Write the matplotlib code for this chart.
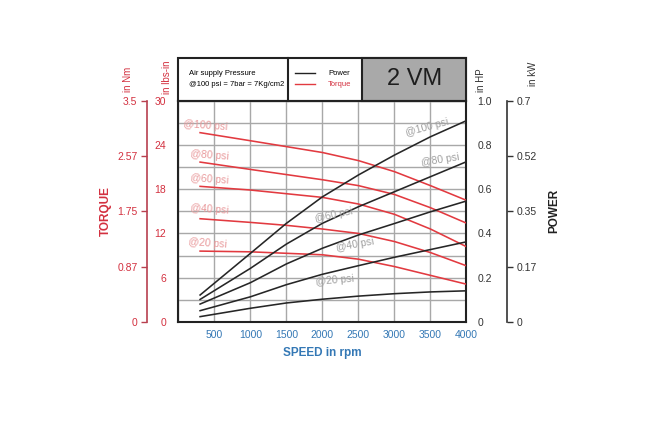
import matplotlib
matplotlib.use("Agg")
import matplotlib.pyplot as plt
from matplotlib.patches import Rectangle

plt.rcParams['font.family'] = ['Liberation Sans', 'DejaVu Sans']

# --- DATA ---
speed = [300, 1000, 1500, 2000, 2500, 3000, 3500, 4000]

torque_100 = [25.7, 24.6, 23.8, 23.0, 21.9, 20.4, 18.5, 16.5]
torque_80 = [21.7, 20.7, 20.0, 19.3, 18.5, 17.3, 15.5, 13.4]
torque_60 = [18.4, 17.9, 17.4, 16.9, 16.0, 14.6, 12.6, 10.2]
torque_40 = [14.0, 13.5, 13.1, 12.6, 12.0, 10.9, 9.4, 7.6]
torque_20 = [9.6, 9.5, 9.3, 9.1, 8.5, 7.5, 6.3, 5.1]

power_100 = [0.121, 0.31, 0.446, 0.566, 0.665, 0.755, 0.838, 0.911]
power_80 = [0.101, 0.242, 0.352, 0.446, 0.521, 0.589, 0.657, 0.725]
power_60 = [0.080, 0.177, 0.262, 0.333, 0.393, 0.445, 0.498, 0.547]
power_40 = [0.050, 0.113, 0.168, 0.215, 0.254, 0.292, 0.327, 0.362]
power_20 = [0.023, 0.061, 0.085, 0.102, 0.116, 0.127, 0.135, 0.140]

psi_labels = ['@100 psi', '@80 psi', '@60 psi', '@40 psi', '@20 psi']

x_ticks = [500, 1000, 1500, 2000, 2500, 3000, 3500, 4000]
lbin_ticks = [0, 6, 12, 18, 24, 30]
hp_ticks = [0, 0.2, 0.4, 0.6, 0.8, 1.0]
hp_ticklabels = ['0', '0.2', '0.4', '0.6', '0.8', '1.0']
nm_ticks = [0, 0.875, 1.75, 2.625, 3.5]
nm_ticklabels = ['0', '0.87', '1.75', '2.57', '3.5']
kw_ticks = [0, 0.175, 0.35, 0.525, 0.7]
kw_ticklabels = ['0', '0.17', '0.35', '0.52', '0.7']

RED = '#d3303f'
LINE_RED = '#e23a40'
BLUE = '#3478b5'
PINK = '#e99a9c'
GREY_TXT = '#a0a0a0'

fig = plt.figure(figsize=(6.5, 4.33), dpi=100)
ax = fig.add_axes([0.2746, 0.257, 0.443, 0.5097])

# --- torque (lbs-in) on main axis ---
torques = [torque_100, torque_80, torque_60, torque_40, torque_20]
for t in torques:
    ax.plot(speed, t, color=LINE_RED, lw=1.15, zorder=3)

ax.set_xlim(0, 4000)
ax.set_ylim(0, 30)
ax.set_xticks(range(0, 4001, 500))
ax.set_yticks([i * 3 for i in range(11)])
ax.grid(True, color='#a8a8a8', lw=1.0)
ax.set_xticklabels([''] + [str(v) for v in x_ticks])
ax.set_yticklabels([str(v) if v in lbin_ticks else '' for v in [i * 3 for i in range(11)]])
ax.tick_params(axis='x', length=0, pad=6, labelsize=7.5, labelcolor=BLUE)
ax.tick_params(axis='y', length=0, pad=9, labelsize=7.5, labelcolor=RED)
for s in ax.spines.values():
    s.set_linewidth(1.5)
    s.set_color('#222222')
ax.set_xlabel('SPEED in rpm', color=BLUE, fontsize=8.5, fontweight='bold', labelpad=5)

# red labels on torque curves
red_pos = [(60, 26.6), (160, 22.6), (160, 19.4), (160, 15.3), (130, 10.7)]
for lab, (px, py) in zip(psi_labels, red_pos):
    ax.text(px, py, lab, color=PINK, fontsize=7.5, rotation=-4, ha='left', va='center', zorder=4)

# --- power (HP) on right axis ---
ax_hp = ax.twinx()
powers = [power_100, power_80, power_60, power_40, power_20]
for p in powers:
    ax_hp.plot(speed, p, color='#262626', lw=1.15, zorder=3)
ax_hp.set_ylim(0, 1.0)
ax_hp.set_yticks(hp_ticks)
ax_hp.set_yticklabels(hp_ticklabels)
ax_hp.tick_params(axis='y', length=0, pad=8, labelsize=7.5, labelcolor='#333333')
for s in ax_hp.spines.values():
    s.set_visible(False)

grey_pos = [(3450, 0.882, 15), (3630, 0.733, 9), (2150, 0.483, 12), (2450, 0.348, 10), (2170, 0.189, 5)]
for lab, (px, py, rot) in zip(psi_labels, grey_pos):
    ax_hp.text(px, py, lab, color=GREY_TXT, fontsize=7.5, rotation=rot, ha='center', va='center')

# --- Nm axis (far left) ---
ax_nm = ax.twinx()
ax_nm.yaxis.set_label_position('left')
ax_nm.yaxis.tick_left()
for k in ['top', 'bottom', 'right']:
    ax_nm.spines[k].set_visible(False)
ax_nm.spines['left'].set_position(('axes', -0.109))
ax_nm.spines['left'].set_color('#b8404f')
ax_nm.spines['left'].set_linewidth(1.2)
ax_nm.set_ylim(0, 3.5)
ax_nm.set_yticks(nm_ticks)
ax_nm.set_yticklabels(nm_ticklabels)
ax_nm.tick_params(axis='y', length=4, width=1.0, color='#b8404f', pad=3, labelsize=7.5, labelcolor=RED)
ax_nm.set_ylabel('TORQUE', color=RED, fontsize=8.5, fontweight='bold', labelpad=4)

# --- kW axis (far right) ---
ax_kw = ax.twinx()
for k in ['top', 'bottom', 'left']:
    ax_kw.spines[k].set_visible(False)
ax_kw.spines['right'].set_position(('axes', 1.141))
ax_kw.spines['right'].set_color('#333333')
ax_kw.spines['right'].set_linewidth(1.2)
ax_kw.set_ylim(0, 0.7)
ax_kw.set_yticks(kw_ticks)
ax_kw.set_yticklabels(kw_ticklabels)
ax_kw.tick_params(axis='y', length=4, width=1.0, color='#333333', pad=3, labelsize=7.5, labelcolor='#333333')
ax_kw.set_ylabel('POWER', color='#222222', fontsize=8.5, fontweight='bold', labelpad=8)

# --- unit labels ---
fig.text(128 / 650, 1 - 79 / 433, 'in Nm', color=RED, fontsize=7, rotation=90, ha='center', va='center')
fig.text(167 / 650, 1 - 77 / 433, 'in lbs-in', color=RED, fontsize=7, rotation=90, ha='center', va='center')
fig.text(481 / 650, 1 - 80 / 433, 'in HP', color='#333333', fontsize=7, rotation=90, ha='center', va='center')
fig.text(533 / 650, 1 - 74 / 433, 'in kW', color='#333333', fontsize=7, rotation=90, ha='center', va='center')

# --- header box above the plot ---
top = 1.195
x1, x2 = 0.38, 0.637
ax.add_patch(Rectangle((0, 1), 1, top - 1, transform=ax.transAxes, fill=False,
                       ec='#222222', lw=1.5, clip_on=False))
ax.add_patch(Rectangle((x2, 1), 1 - x2, top - 1, transform=ax.transAxes, fc='#a9a9a9',
                       ec='#222222', lw=1.5, clip_on=False))
ax.plot([x1, x1], [1, top], transform=ax.transAxes, color='#222222', lw=1.5, clip_on=False)
ax.text(0.035, 1.125, 'Air supply Pressure', transform=ax.transAxes, fontsize=5.5, va='center')
ax.text(0.035, 1.077, '@100 psi = 7bar = 7Kg/cm2', transform=ax.transAxes, fontsize=5.5, va='center')
ax.plot([0.405, 0.475], [1.125, 1.125], transform=ax.transAxes, color='#222222', lw=1.0, clip_on=False)
ax.plot([0.405, 0.475], [1.075, 1.075], transform=ax.transAxes, color=LINE_RED, lw=1.0, clip_on=False)
ax.text(0.52, 1.125, 'Power', transform=ax.transAxes, fontsize=5.5, va='center')
ax.text(0.52, 1.075, 'Torque', transform=ax.transAxes, fontsize=5.5, va='center', color=RED)
ax.text((x2 + 1) / 2, 1.1, '2 VM', transform=ax.transAxes, fontsize=17, ha='center', va='center',
        color='#1e1e1e')

fig.savefig('out.png', dpi=100)
